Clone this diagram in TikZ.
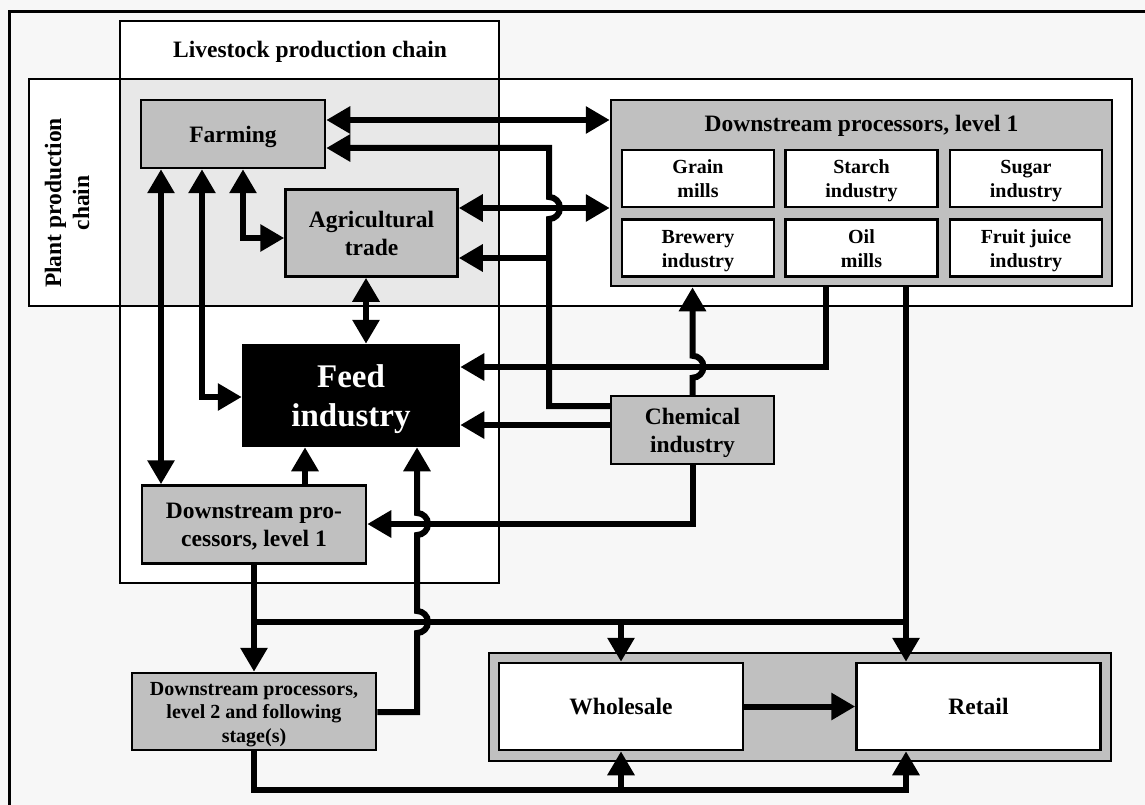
\documentclass[tikz,border=0pt]{standalone}
\usepackage{fontspec}
\setmainfont{Liberation Serif}
\usetikzlibrary{positioning}
\usetikzlibrary{arrows.meta}

\definecolor{bggray}{HTML}{F7F7F7}
\definecolor{boxgray}{HTML}{C0C0C0}
\definecolor{chaingray}{HTML}{E8E8E8}

\newcommand{\boxtop}{\rule{0pt}{0.9\baselineskip}}

\tikzset{
  proc/.style={draw, line width=2.5pt, fill=boxgray, align=center, inner sep=0pt,
    font=\fontsize{23.5}{28}\selectfont\bfseries},
  sub/.style={draw, line width=2.5pt, fill=white, align=center, inner sep=0pt,
    minimum width=152pt, minimum height=57pt, font=\fontsize{20}{24}\selectfont\bfseries},
  chain/.style={align=center, inner sep=0pt, font=\fontsize{23.5}{28}\selectfont\bfseries},
  flow/.style={line width=6pt},
  >={Triangle[length=24pt,width=26pt]},
}

\begin{document}
\begin{tikzpicture}[x=1pt, y=-1pt]
    \useasboundingbox (0,0) rectangle (1145,805);
    \fill[bggray] (0,0) rectangle (1145,805);
    \draw[line width=3pt] (9.5,900) -- (9.5,12) -- (1200,12);
% chains
    \fill[white] (120,21) rectangle (499,583);
    \fill[white] (29,79) rectangle (1132,306);
    \fill[chaingray] (120,79) rectangle (499,306);
    \draw[line width=2pt] (120,21) rectangle (499,583);
    \draw[line width=2pt] (29,79) rectangle (1132,306);
    \node[chain] (livestock) at (310,52) {Livestock production chain} ; %
    \node[chain, rotate=90] (plant) at (67,203) {Plant production\\chain} ; %
% processors
    \node[proc, minimum width=184pt, minimum height=68pt] (farm) at (233,134) {\boxtop Farming\strut} ; %
    \node[proc, minimum width=172pt, minimum height=87pt, below right=19pt and -42pt of farm] (agri) {\boxtop Agricultural\\trade\strut} ; %
    \node[proc, minimum width=501pt, minimum height=186pt] (dpu) at (861.5,193) {} ; %
    \node[chain] (dpu_title) at (dpu.north |- 0,126) {Downstream processors, level 1} ; %
    \node[sub] (grain) at (698,178.5) {\boxtop Grain\\mills\strut} ; %
    \node[sub, right=9pt of grain] (starch) {\boxtop Starch\\industry\strut} ; %
    \node[sub, right=10pt of starch] (sugar) {\boxtop Sugar\\industry\strut} ; %
    \node[sub, below=10pt of grain] (brewery) {\boxtop Brewery\\industry\strut} ; %
    \node[sub, right=9pt of brewery] (oil) {\boxtop Oil\\mills\strut} ; %
    \node[sub, right=10pt of oil] (juice) {\boxtop Fruit juice\\industry\strut} ; %
    \node[proc, fill=black, text=white, font=\fontsize{33}{39}\selectfont\bfseries,
      minimum width=216pt, minimum height=101pt] (feed) at (351,395.5) {\boxtop Feed\\industry\strut} ; %
    \node[proc, minimum width=163pt, minimum height=68pt] (chem) at (692.5,430) {\boxtop Chemical\\industry\strut} ; %
    \node[proc, minimum width=224pt, minimum height=78pt, below=37pt of feed, xshift=-97pt] (dpl) {\boxtop Downstream pro-\\cessors, level 1\strut} ; %
    \node[proc, font=\fontsize{20}{23.5}\selectfont\bfseries, minimum width=244pt, minimum height=77pt,
      below=107pt of dpl] (lvl2) {\boxtop Downstream processors,\\level 2 and following\\stage(s)\strut} ; %
% trade
    \node[draw, line width=2.5pt, fill=boxgray, minimum width=622pt, minimum height=108pt] (trade) at (800,707) {} ; %
    \node[proc, fill=white, minimum width=244pt, minimum height=87pt] (whole) at (621,706.5) {\boxtop Wholesale\strut} ; %
    \node[proc, fill=white, minimum width=244pt, minimum height=87pt, right=111pt of whole] (retail) {\boxtop Retail\strut} ; %
% edges
    \draw[flow, <->] (farm.east |- 0,120) -- (dpu.west |- 0,120) ; %
    \draw[flow, <->] (agri.east |- 0,208) -- (dpu.west |- 0,208) ; %
    \draw[flow, ->] (chem.west |- 0,406) -- (549,406) -- (549,219)
      arc[start angle=90, end angle=-90, radius=11] -- (549,148) -- (farm.east |- 0,148) ; %
    \draw[flow, ->] (549,258) -- (agri.east |- 0,258) ; %
    \draw[flow, <->] (farm.south -| 161,0) -- (dpl.north -| 161,0) ; %
    \draw[flow, <->] (farm.south -| 202,0) -- (202,397) -- (feed.west |- 0,397) ; %
    \draw[flow, <->] (farm.south -| 243,0) -- (243,238) -- (agri.west |- 0,238) ; %
    \draw[flow, <->] (agri.south -| 366,0) -- (feed.north -| 366,0) ; %
    \draw[flow, ->] (dpu.south -| 826,0) -- (826,367) -- (feed.east |- 0,367) ; %
    \draw[flow, ->] (chem.west |- 0,425) -- (feed.east |- 0,425) ; %
    \draw[flow, ->] (chem.north) -- ++(0,-17)
      arc[start angle=90, end angle=-90, radius=11] -- (dpu.south -| chem.north) ; %
    \draw[flow, ->] (chem.south) -- (chem.south |- 0,524) -- (dpl.east |- 0,524) ; %
    \draw[flow, ->] (dpl.north -| 305,0) -- (feed.south -| 305,0) ; %
% lower flows
    \draw[flow, ->] (lvl2.east |- 0,712) -- (417,712) -- (417,633)
      arc[start angle=90, end angle=-90, radius=11] -- (417,535)
      arc[start angle=90, end angle=-90, radius=11] -- (feed.south -| 417,0) ; %
    \draw[flow, ->] (dpl.south) -- (lvl2.north) ; %
    \draw[flow] (dpl.south |- 0,622) -- (906,622) ; %
    \draw[flow, ->] (621,622) -- (whole.north) ; %
    \draw[flow, ->] (dpu.south -| 906,0) -- (retail.north -| 906,0) ; %
    \draw[flow, ->] (lvl2.south) -- (lvl2.south |- 0,790) -- (906,790) -- (retail.south -| 906,0) ; %
    \draw[flow, ->] (621,790) -- (whole.south) ; %
    \draw[flow, ->] (whole) -- (retail) ; %
\end{tikzpicture}
\end{document}
